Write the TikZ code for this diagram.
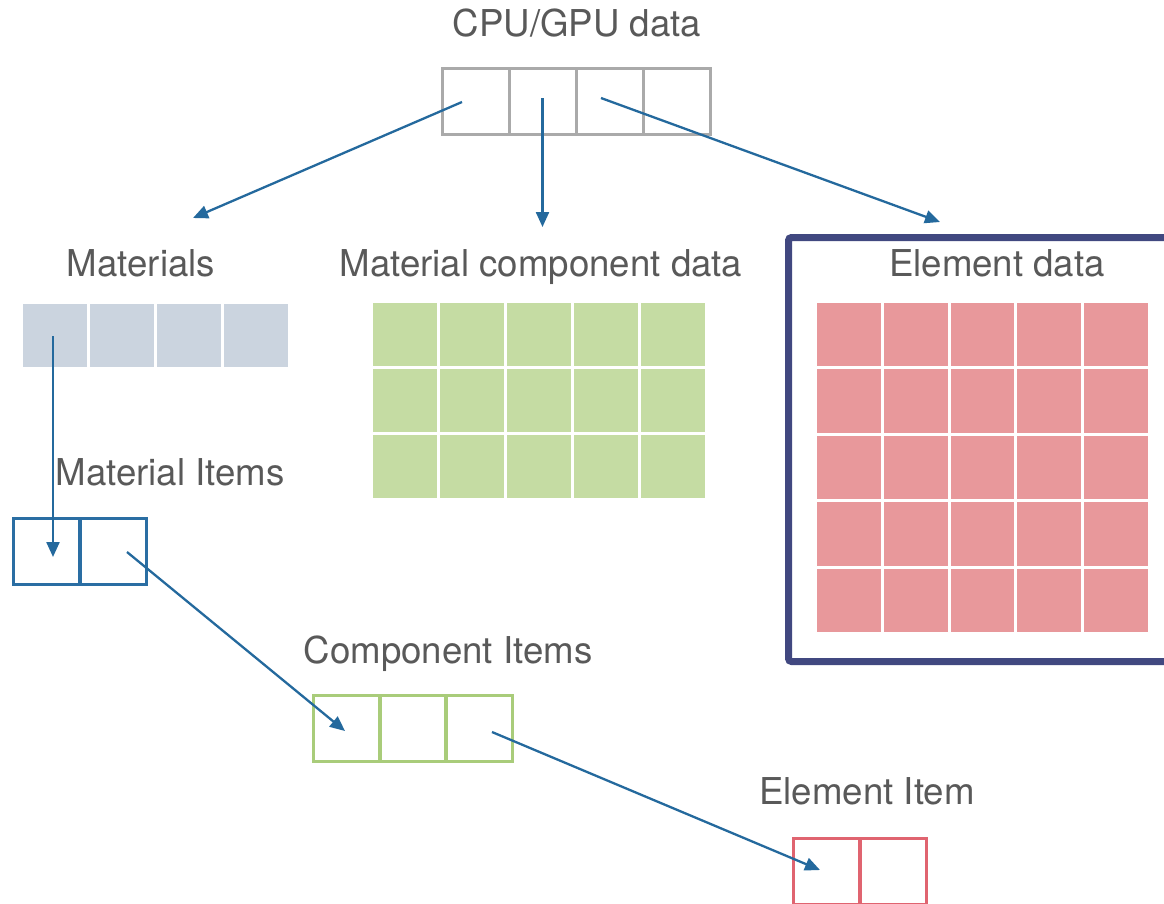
\documentclass[tikz,border=0pt]{standalone}
\usepackage{fontspec}
\setmainfont{TeX Gyre Heros}[FakeStretch=0.99]
\usetikzlibrary{arrows.meta,calc}

\definecolor{labelgray}{HTML}{595959}
\definecolor{boxgray}{HTML}{AAAAAA}
\definecolor{arrowblue}{HTML}{24699D}
\definecolor{matfill}{HTML}{CBD4DF}
\definecolor{compfill}{HTML}{C5DCA3}
\definecolor{elemfill}{HTML}{E8989B}
\definecolor{frameblue}{HTML}{414880}
\definecolor{itemblue}{HTML}{2A6EA3}
\definecolor{itemgreen}{HTML}{A9CC7A}
\definecolor{itemred}{HTML}{E06470}

\tikzset{
  title/.style={font=\fontsize{37}{42}\selectfont, text=labelgray, anchor=base, inner sep=0pt},
  slot/.style={draw=#1, line width=3pt, minimum width=67pt, minimum height=66pt, inner sep=0pt, outer sep=0pt},
  tile/.style={fill=#1, draw=white, line width=3pt, inner sep=0pt, outer sep=0pt},
  link/.style={draw=arrowblue, line width=2.3pt, -{Triangle[length=15pt,width=13pt]}},
}

\begin{document}
\begin{tikzpicture}[x=1pt,y=-1pt]
\useasboundingbox (0,0) rectangle (1164,903);
\clip (0,0) rectangle (1164,903);
\fill[white] (0,0) rectangle (1164,903);

% CPU/GPU data: four outlined slots
\node[title] (tcpu) at (577,36) {CPU/GPU data};
\foreach \i in {1,...,4}
  \node[slot=boxgray] (cpu\i) at ({442+33.5+67*(\i-1)},101.5) {};

% Materials: four filled tiles
\node[title] (tmat) at (141,276) {Materials};
\foreach \i in {1,...,4}
  \node[tile=matfill, minimum width=67pt, minimum height=66pt] (mat\i) at ({55+67*(\i-1)},335.5) {};

% Material component data: 5 x 3 tiles
\node[title] (tcomp) at (541,276) {Material component data};
\foreach \r in {1,...,3}
  \foreach \c in {1,...,5}
    \node[tile=compfill, minimum width=67pt, minimum height=66pt] (comp\r\c) at ({405+67*(\c-1)},{334.5+66*(\r-1)}) {};

% Element data: framed 5 x 5 tiles
\draw[frameblue, line width=7pt, rounded corners=3pt] (788.5,237.5) rectangle (1180,661.5);
\node[title] (telem) at (997,276) {Element data};
\foreach \r in {1,...,5}
  \foreach \c in {1,...,5}
    \node[tile=elemfill, minimum width=66.8pt, minimum height=66.4pt] (elem\r\c) at ({848.9+66.8*(\c-1)},{334.7+66.4*(\r-1)}) {};

% Material items
\node[title] (tmi) at (170,485) {Material Items};
\foreach \i in {1,2}
  \node[slot=itemblue] (mi\i) at ({46.5+66*(\i-1)},551.5) {};

% Component items
\node[title] (tci) at (448,663) {Component Items};
\foreach \i in {1,...,3}
  \node[slot=itemgreen] (ci\i) at ({346.7+66.3*(\i-1)},728.5) {};

% Element item
\node[title] (tei) at (867,804) {Element Item};
\foreach \i in {1,2}
  \node[slot=itemred] (ei\i) at ({826.5+66*(\i-1)},871.5) {};

% Arrow ends
\coordinate (matIn) at (193,218);
\coordinate (compIn) at (542.5,227);
\coordinate (elemIn) at (940,222);

% Connectors
\draw[link] ($(cpu1.center)+(-13.5,0.5)$) -- (matIn);
\draw[link] ($(cpu2.center)+(0,-3.5)$) -- (compIn);
\draw[link] ($(cpu3.center)+(-8.5,-3.5)$) -- (elemIn);
\draw[link] ($(mat1.center)+(-2,0.5)$) -- ($(mi1.center)+(6.5,5.5)$);
\draw[link] ($(mi2.center)+(14.5,0.5)$) -- ($(ci1.center)+(-1.7,2.5)$);
\draw[link] ($(ci3.center)+(12.7,3.5)$) -- ($(ei1.center)+(-6.5,-1.5)$);
\end{tikzpicture}
\end{document}
